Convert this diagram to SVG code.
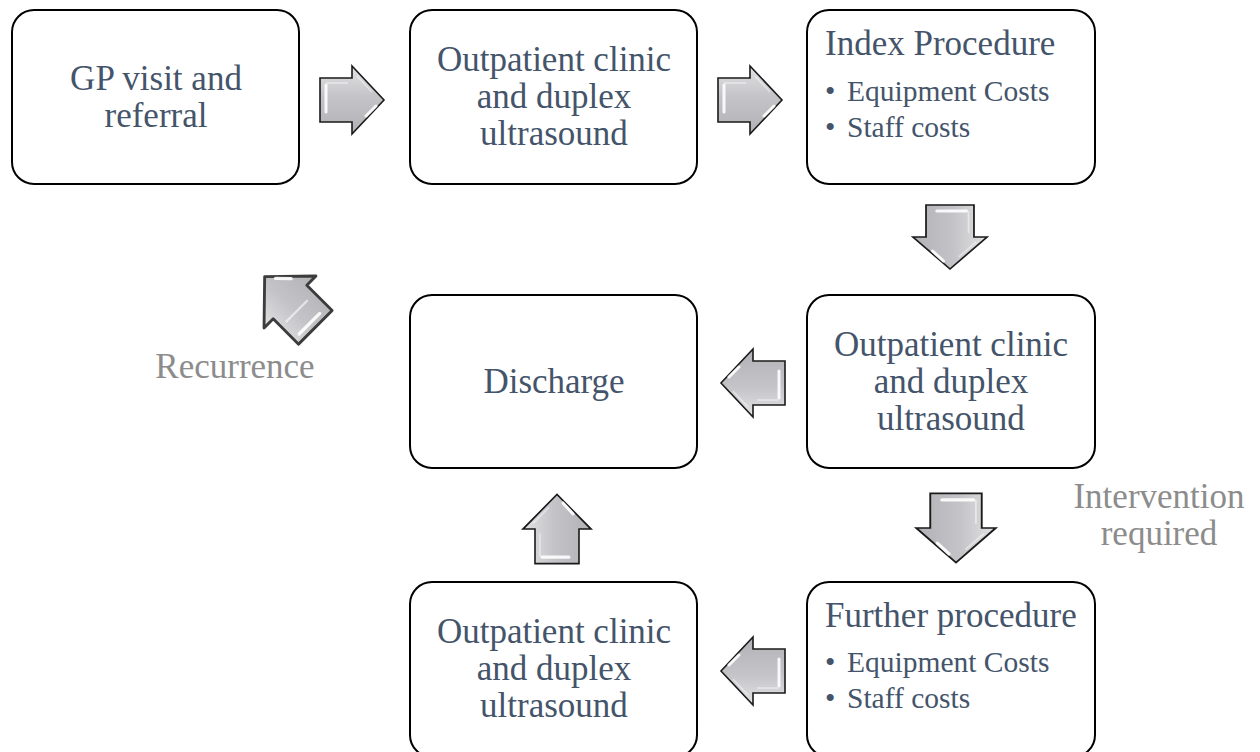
<svg xmlns="http://www.w3.org/2000/svg" xmlns:xlink="http://www.w3.org/1999/xlink" width="1260" height="752" viewBox="0 0 1260 752">
  <style>
    .box { fill: #ffffff; stroke: #000000; stroke-width: 2; }
    .t { font-family: "Liberation Serif", "Times New Roman", serif; fill: #44546a; }
    .main { font-size: 35px; text-anchor: middle; }
    .title { font-size: 35px; }
    .item { font-size: 29.5px; }
    .note { font-family: "Liberation Serif", "Times New Roman", serif; font-size: 35px; fill: #8c8c8c; text-anchor: middle; }
  </style>
  <defs>
    <linearGradient id="silver" x1="0" y1="0" x2="0" y2="1">
      <stop offset="0" stop-color="#e2e2e4"/>
      <stop offset="0.45" stop-color="#c4c4c8"/>
      <stop offset="1" stop-color="#b2b2b6"/>
    </linearGradient>
    <!-- block arrow pointing right, centred on the origin -->
    <g id="blockArrow">
      <path d="M-32,-22 H0 V-34 L32,0 L0,34 V22 H-32 Z" fill="url(#silver)" stroke="#1a1a1a" stroke-width="1.6" stroke-linejoin="miter"/>
      <path d="M-26,-15 V12" stroke="#ffffff" stroke-width="3" stroke-linecap="round" opacity="0.9"/>
      <path d="M-26,-17 H-4" stroke="#ffffff" stroke-width="1.5" opacity="0.5"/>
      <path d="M14,16 L24,6" stroke="#ffffff" stroke-width="3" stroke-linecap="round" opacity="0.9"/>
      <path d="M5,-24 L20,-8" stroke="#ffffff" stroke-width="1.5" opacity="0.45"/>
    </g>
    <g id="softArrow">
      <path d="M-32,-22 H0 V-34 L32,0 L0,34 V22 H-32 Z" fill="url(#silver)" stroke="#3c3c3c" stroke-width="2.6" stroke-linejoin="round"/>
      <path d="M-26,-15 V12" stroke="#ffffff" stroke-width="3" stroke-linecap="round" opacity="0.9"/>
      <path d="M14,16 L24,6" stroke="#ffffff" stroke-width="3" stroke-linecap="round" opacity="0.9"/>
      <path d="M-10,-15 V12" stroke="#ffffff" stroke-width="2" stroke-linecap="round" opacity="0.6"/>
    </g>
  </defs>

  <!-- process steps -->
  <g id="gp-visit">
    <rect class="box" x="12" y="10" width="287" height="174" rx="22"/>
    <text class="t main" x="156" y="90">GP visit and</text>
    <text class="t main" x="156" y="127">referral</text>
  </g>
  <g id="outpatient-1">
    <rect class="box" x="410" y="10" width="287" height="174" rx="22"/>
    <text class="t main" x="554" y="71">Outpatient clinic</text>
    <text class="t main" x="554" y="108">and duplex</text>
    <text class="t main" x="554" y="145">ultrasound</text>
  </g>
  <g id="index-procedure">
    <rect class="box" x="807" y="10" width="288" height="174" rx="22"/>
    <text class="t title" x="825" y="55">Index Procedure</text>
    <text class="t item" x="825" y="101">•</text>
    <text class="t item" x="847" y="101">Equipment Costs</text>
    <text class="t item" x="825" y="137">•</text>
    <text class="t item" x="847" y="137">Staff costs</text>
  </g>
  <g id="outpatient-2">
    <rect class="box" x="807" y="295" width="288" height="173" rx="22"/>
    <text class="t main" x="951" y="356">Outpatient clinic</text>
    <text class="t main" x="951" y="393">and duplex</text>
    <text class="t main" x="951" y="430">ultrasound</text>
  </g>
  <g id="discharge">
    <rect class="box" x="410" y="295" width="287" height="173" rx="22"/>
    <text class="t main" x="554" y="393">Discharge</text>
  </g>
  <g id="further-procedure">
    <rect class="box" x="807" y="582" width="288" height="175" rx="22"/>
    <text class="t title" x="825" y="627">Further procedure</text>
    <text class="t item" x="825" y="672">•</text>
    <text class="t item" x="847" y="672">Equipment Costs</text>
    <text class="t item" x="825" y="708">•</text>
    <text class="t item" x="847" y="708">Staff costs</text>
  </g>
  <g id="outpatient-3">
    <rect class="box" x="410" y="582" width="287" height="175" rx="22"/>
    <text class="t main" x="554" y="643">Outpatient clinic</text>
    <text class="t main" x="554" y="680">and duplex</text>
    <text class="t main" x="554" y="717">ultrasound</text>
  </g>

  <!-- connectors -->
  <g id="connectors">
    <use xlink:href="#blockArrow" transform="translate(352,100)"/>
    <use xlink:href="#blockArrow" transform="translate(750,100)"/>
    <use xlink:href="#blockArrow" transform="translate(950,237) rotate(90) scale(1,1.09)"/>
    <use xlink:href="#blockArrow" transform="translate(753,383) rotate(180)"/>
    <use xlink:href="#blockArrow" transform="translate(956,528) rotate(90) scale(1.08,1.17)"/>
    <use xlink:href="#blockArrow" transform="translate(753,671) rotate(180)"/>
    <use xlink:href="#blockArrow" transform="translate(557,529) rotate(-90) scale(1.08,1)"/>
    <use xlink:href="#softArrow" transform="translate(290,302) rotate(-135) scale(1.12,1.08)"/>
  </g>

  <!-- connector labels -->
  <g id="labels">
    <text class="note" x="235" y="378">Recurrence</text>
    <text class="note" x="1159" y="508">Intervention</text>
    <text class="note" x="1159" y="545">required</text>
  </g>
</svg>
